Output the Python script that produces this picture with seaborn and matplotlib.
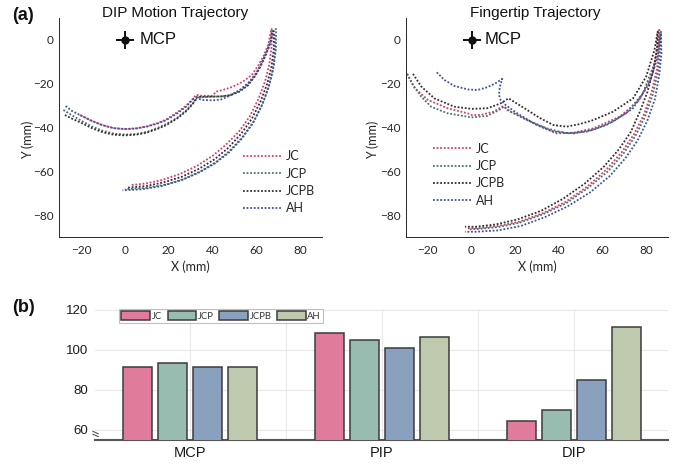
import matplotlib
matplotlib.use("Agg")
import matplotlib.pyplot as plt
import seaborn as sns
import pandas as pd
from matplotlib.lines import Line2D

# ---------------- data ----------------
methods = ["JC", "JCP", "JCPB", "AH"]
line_colors = ["#d63d6c", "#44756a", "#3a2b2b", "#3d50a0"]
bar_colors = ["#e07b9c", "#98bcb0", "#89a0bf", "#bfc9ae"]

joints = ["MCP", "PIP", "DIP"]
bar_jc = [91.7, 108.3, 64.7]
bar_jcp = [93.3, 104.8, 70.2]
bar_jcpb = [91.7, 101.2, 85.2]
bar_ah = [91.7, 106.7, 111.5]

mcp_x = [0]
mcp_y = [0]

# DIP motion trajectory (x, y) in mm
dip_jc = [(-20.5, -34.3), (-15, -37), (-10, -39), (-5, -40.3), (0, -40.7), (5, -40.4), (10, -39.5),
          (15, -38), (19, -36.3), (24, -33), (28, -30), (31, -27), (32.6, -25.1), (35, -25.5),
          (40, -25.6), (41.7, -23.6), (45, -22.8), (49, -21.5), (54, -19), (58, -16), (61, -11.5),
          (63.5, -7), (65.5, -2), (66.5, 3), (67, 5),
          (67, -3), (66, -11), (64, -19), (61, -27), (57, -35), (52, -42), (46, -48), (40, -53),
          (33, -57.5), (25, -61.3), (17, -64), (10, -65.5), (3, -66.3)]
dip_jcp = [(-28, -32), (-24, -34.5), (-20, -36.8), (-15, -39.5), (-10, -41.5), (-5, -42.8), (0, -43.2),
           (5, -43), (10, -42), (15, -40.2), (19, -38.4), (24, -35.5), (28, -32.2), (31, -29),
           (33.5, -26.3), (38, -26), (44, -25.8), (48, -25.2), (52, -23.5), (56, -20.5), (59.5, -16),
           (62, -11.5), (64.5, -6), (66.5, -1), (67.5, 4), (69, 5),
           (69, -4), (68, -12), (66, -20.5), (63, -29), (59, -37), (54, -44), (48, -50.5), (42, -55.5),
           (35, -59.8), (27, -63.5), (19, -66), (10, -67.6), (0, -68.2)]
dip_jcpb = [(-27.3, -34.3), (-24, -36), (-20, -37.8), (-15, -40.3), (-10, -42.2), (-5, -43.3), (0, -43.6),
            (5, -43.3), (10, -42.4), (15, -40.6), (19, -38.9), (24, -35.8), (28, -32.6), (31, -29.3),
            (33, -26), (38, -25.9), (44, -25.8), (48, -25.3), (52, -23.8), (56, -21), (59.5, -16.5),
            (62, -12), (64.5, -6.5), (66.5, -1), (67.5, 4), (68, 4),
            (68, -4), (67, -12), (65, -20), (62, -28), (58, -36), (53, -43), (47, -49.5), (41, -54.5),
            (34, -58.8), (26, -62.5), (18, -65), (10, -66.7), (1, -67.5)]
dip_ah = [(-27, -30.2), (-24, -32.5), (-20, -34.5), (-15, -37), (-10, -39), (-5, -40.3), (0, -40.7),
          (5, -40.5), (10, -39.6), (15, -38.2), (19, -36.6), (24, -33.5), (28, -30.5), (31.5, -26.7),
          (33, -26.5), (35, -27.4), (40, -27.6), (44, -27.2), (48, -25.5), (53, -22.5), (57, -19),
          (60.5, -14.5), (63, -9.5), (65.5, -4), (67, 1), (67.5, 3), (68.5, 2),
          (68.5, -6), (67.5, -14), (65.5, -22), (62.5, -30), (58.5, -38), (53.5, -45), (47.5, -51.5),
          (41, -56.5), (34, -60.5), (26, -64), (17, -66.7), (8, -68.2), (-1, -68.7)]

# Fingertip trajectory (x, y) in mm
tip_jc = [(-29.5, -15.5), (-26, -22), (-20, -27.4), (-11, -31.2), (-1.8, -33.5), (0, -34.3), (4, -34.3),
          (10, -32.8), (14, -30.5), (14.8, -30.2), (16.4, -32), (22.4, -35), (31.5, -39.6), (39, -42.7),
          (46.7, -42.4), (55.8, -40.4), (68, -35), (77, -27.4), (83, -15.2), (85.3, -1.5), (86, 4.6),
          (86, -3), (85, -13), (82.5, -24), (79, -34), (74.5, -43), (69, -51), (62, -59), (53, -67),
          (43, -74), (33, -79), (22, -83), (12, -85), (3, -86), (-2, -86)]
tip_jcp = [(-29.5, -15.5), (-26.8, -20.6), (-23, -25.9), (-18.5, -30.5), (-11, -33.5), (0, -35.4),
           (7.3, -34.7), (12.6, -32), (14.8, -30.5), (17.9, -32.8), (25.5, -36.6), (34.5, -40.4),
           (43.6, -42.7), (52.7, -41.9), (61.8, -38.9), (70.9, -33.5), (78.5, -24.4), (83.8, -10.7),
           (86.4, 1.5), (86.8, 3.8),
           (86.5, -4), (85.5, -14), (83, -25), (79.5, -35), (75, -44), (69.5, -52), (62.5, -60),
           (53.5, -67.5), (43.5, -74.5), (33, -79.5), (22, -83.5), (12, -85.5), (3, -86.3), (-1, -86.5)]
tip_jcpb = [(-26.8, -15.5), (-23, -21.3), (-17, -26.7), (-7.9, -30.5), (0, -31.5), (7.3, -31.2),
            (13.3, -29), (17, -26.7), (19.4, -28.2), (25.5, -32), (31.5, -35.8), (37.6, -38.9),
            (43.6, -39.6), (49.7, -38.4), (55.8, -36.6), (64.8, -32.8), (74, -26.7), (80, -16.8),
            (83.8, -4.6), (85.3, 3.8),
            (85, -4), (83.5, -13), (80.5, -24), (77, -33), (73, -42), (67.5, -50), (60.5, -58),
            (52, -65.5), (42, -72.5), (32, -78), (21, -82), (11, -84.3), (2, -85.3), (-3, -85.3)]
tip_ah = [(-15.9, -14.8), (-12.4, -18.3), (-7.9, -21), (-1.8, -22.6), (2.7, -22.9), (7.3, -21.6),
          (11, -19.8), (14.1, -17.8), (13, -21.3), (12.6, -25.1), (13.3, -27.4), (15.6, -29.7),
          (20.9, -33.5), (28.5, -38.1), (37.6, -41.9), (46.7, -42.7), (55.8, -41.1), (64.8, -37.3),
          (74, -31.2), (81.5, -19.8), (85.3, -7.6), (86.8, 3),
          (87, -6), (86, -16), (84, -27), (80.5, -37), (76, -46), (70.5, -54), (63.5, -62),
          (54.5, -69.5), (44, -76), (33.5, -81), (22.5, -85), (12, -87), (2, -87.6), (-3, -87.6)]

# ---------------- style ----------------
sns.set_style("white")
plt.rcParams["font.family"] = ["Lato", "DejaVu Sans"]
ARIAL = ["Liberation Sans", "DejaVu Sans"]
DOTS = (0, (1, 1))

fig = plt.figure(figsize=(6.86, 4.66), dpi=100)


def traj_frame(series_list):
    rows = []
    for name, pts in zip(methods, series_list):
        for i, (x, y) in enumerate(pts):
            rows.append({"method": name, "order": i, "x": x, "y": y})
    return pd.DataFrame(rows)


def draw_traj(ax, series_list, mcp_text_x, legend_anchor, ylab_x):
    df = traj_frame(series_list)
    sns.lineplot(data=df, x="x", y="y", hue="method", hue_order=methods,
                 palette=line_colors, sort=False, estimator=None, legend=False,
                 linewidth=1.3, ax=ax)
    for ln in ax.get_lines():
        ln.set_linestyle(DOTS)
    ax.plot(mcp_x, mcp_y, marker="o", ms=5, color="#111111", linestyle="none")
    ax.plot(mcp_x, mcp_y, marker="+", ms=13, mew=1.4, color="#111111", linestyle="none")
    ax.text(mcp_text_x, 0.3, "MCP", fontsize=12, family=ARIAL, va="center", ha="left", color="#111111")
    ax.set_xlim(-30, 90)
    ax.set_ylim(-90, 10)
    ax.set_xticks([-20, 0, 20, 40, 60, 80])
    ax.set_yticks([-80, -60, -40, -20, 0])
    ax.set_xlabel("X (mm)", fontsize=9, color="#262626")
    ax.set_ylabel("Y (mm)", fontsize=9, color="#262626")
    ax.xaxis.set_label_coords(0.5, -0.108)
    ax.yaxis.set_label_coords(ylab_x, 0.443)
    ax.tick_params(axis="both", labelsize=8.5, colors="#262626", length=2, direction="in")
    ax.tick_params(axis="x", pad=6)
    ax.tick_params(axis="y", pad=4)
    for s in ["top", "right"]:
        ax.spines[s].set_visible(False)
    for s in ["left", "bottom"]:
        ax.spines[s].set_color("#262626")
        ax.spines[s].set_linewidth(0.7)
    handles = [Line2D([], [], color=c, linestyle=DOTS, linewidth=1.3) for c in line_colors]
    ax.legend(handles, methods, loc="upper left", bbox_to_anchor=legend_anchor, frameon=False,
              fontsize=9, handlelength=3.1, handletextpad=0.3, labelspacing=0.42,
              borderpad=0, borderaxespad=0, labelcolor="#262626")


ax1 = fig.add_axes([59 / 686, 1 - 237 / 466, 263 / 686, 219 / 466])
ax2 = fig.add_axes([406 / 686, 1 - 237 / 466, 262 / 686, 219 / 466])
draw_traj(ax1, [dip_jc, dip_jcp, dip_jcpb, dip_ah], 6.8, (0.70, 0.395), -0.095)
draw_traj(ax2, [tip_jc, tip_jcp, tip_jcpb, tip_ah], 6.0, (0.103, 0.43), -0.103)

fig.text(175 / 686, 1 - 13 / 466, "DIP Motion Trajectory", fontsize=11, family=ARIAL,
         ha="center", va="center", color="#111111")
fig.text(535 / 686, 1 - 13 / 466, "Fingertip Trajectory", fontsize=11, family=ARIAL,
         ha="center", va="center", color="#111111")
fig.text(12 / 686, 1 - 15 / 466, "(a)", fontsize=13, family=ARIAL, weight="bold",
         ha="left", va="center", color="#111111")
fig.text(12 / 686, 1 - 308 / 466, "(b)", fontsize=13, family=ARIAL, weight="bold",
         ha="left", va="center", color="#111111")

# ---------------- bar chart ----------------
axb = fig.add_axes([95 / 686, 1 - 440 / 466, 573 / 686, 131 / 466])
bar_rows = []
for name, vals in zip(methods, [bar_jc, bar_jcp, bar_jcpb, bar_ah]):
    for j, v in zip(joints, vals):
        bar_rows.append({"joint": j, "method": name, "value": v})
dfb = pd.DataFrame(bar_rows)
sns.barplot(data=dfb, x="joint", y="value", hue="method", order=joints, hue_order=methods,
            palette=bar_colors, saturation=1, width=0.73, gap=0.19, edgecolor="#3c3c3c",
            linewidth=1.1, ax=axb, zorder=3)
axb.set_xlim(-0.495, 2.49)
axb.set_ylim(55, 120.5)
axb.set_yticks([60, 80, 100, 120])
axb.set_xticks([0, 1, 2])
axb.set_xticks([0.5, 1.5], minor=True)
axb.set_xticklabels(joints, fontsize=10.5, family=ARIAL, color="#1a1a1a")
for lbl in axb.get_yticklabels():
    lbl.set_fontfamily(ARIAL)
axb.tick_params(axis="y", labelsize=9.5, colors="#1a1a1a", length=3, color="#888888", pad=2)
axb.tick_params(axis="x", which="both", length=0, pad=4)
axb.grid(True, which="both", color="#e8e8e8", linewidth=0.8, zorder=0)
axb.set_axisbelow(True)
axb.set_xlabel("")
axb.set_ylabel("")
for s in ["top", "right", "left"]:
    axb.spines[s].set_visible(False)
axb.spines["bottom"].set_color("#555555")
axb.spines["bottom"].set_linewidth(1.5)
# axis break mark
for dy in (0.0, 0.022):
    axb.plot([-0.004, 0.006], [0.045 + dy, 0.025 + dy], transform=axb.transAxes,
             color="#555555", linewidth=0.8, clip_on=False)
leg = axb.legend(loc="upper left", bbox_to_anchor=(0.042, 1.0), ncol=4, fontsize=6.8,
                 handlelength=3.0, handleheight=1.0, handletextpad=0.2, columnspacing=0.6,
                 borderpad=0.25, borderaxespad=0, frameon=True, fancybox=False)
leg.get_frame().set_edgecolor("#b0b0b0")
leg.get_frame().set_linewidth(0.8)
for t in leg.get_texts():
    t.set_color("#333333")

fig.savefig("out.png", dpi=100)
